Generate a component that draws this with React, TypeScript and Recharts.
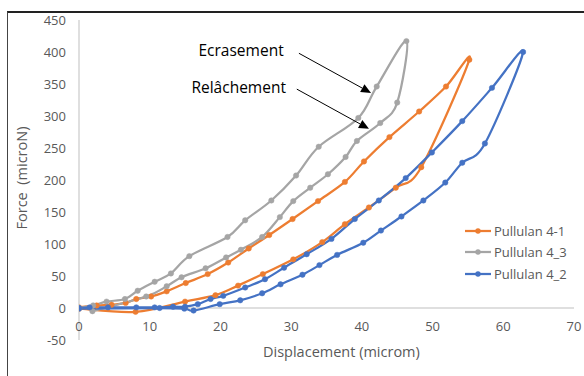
import React from "react";
import { LineChart, Line, XAxis, YAxis, ReferenceLine, ReferenceDot } from "recharts";

// Pullulan 4-1 (orange): loading branch then unloading branch
const orangeX = [0, 2.5, 4.6, 6.6, 8.1, 10.2, 12.4, 15.1, 18.2, 21.1, 24.0, 26.9, 30.2, 33.8, 37.6, 40.3, 43.9, 48.1, 51.9, 55.2,
  48.4, 44.8, 41.0, 37.6, 34.4, 30.3, 26.0, 22.5, 19.3, 15.0, 8.0, 0];
const orangeY = [1, 4, 5, 8, 14, 18, 26, 39, 53, 71, 93, 114, 139, 167, 197, 229, 267, 307, 346, 388,
  220, 188, 157, 131, 103, 76, 53, 35, 20, 10, -6, -1];

// Pullulan 4_3 (gray)
const grayX = [0, 2.0, 3.9, 6.5, 8.3, 10.7, 13.0, 15.6, 21.0, 23.5, 27.2, 30.7, 33.9, 39.5, 42.1, 46.3,
  45.0, 42.6, 39.3, 37.7, 35.2, 32.7, 30.3, 28.4, 25.9, 22.9, 20.8, 17.9, 14.5, 12.4, 9.5, 1.9];
const grayY = [0, 4, 10, 14, 27, 41, 54, 81, 111, 137, 168, 207, 252, 297, 346, 417,
  321, 289, 261, 236, 209, 188, 167, 142, 111, 91, 79, 62, 48, 34, 18, -5];

// Pullulan 4_2 (blue)
const blueX = [0, 1.5, 4.1, 8.1, 10.7, 13.3, 15.0, 16.8, 18.6, 20.4, 23.5, 26.3, 29.0, 32.2, 35.7, 39.0, 42.4, 46.2, 49.9, 54.2, 58.4, 62.8,
  57.4, 54.2, 51.8, 48.7, 45.6, 42.7, 40.2, 36.5, 34.0, 31.6, 28.5, 25.9, 22.8, 19.9, 16.2, 14.9, 11.4, 0];
const blueY = [0, 1, 1, 1, 1, 2, 2, 6, 14, 19, 32, 45, 63, 84, 108, 139, 168, 203, 243, 292, 344, 400,
  257, 227, 196, 168, 143, 121, 102, 83, 67, 52, 37, 23, 12, 6, -4, -1, 0, -1];

const xTicks = [0, 10, 20, 30, 40, 50, 60, 70];
const yTicks = [-50, 0, 50, 100, 150, 200, 250, 300, 350, 400, 450];

const seriesNames = ["Pullulan 4-1", "Pullulan 4_3", "Pullulan 4_2"];
const seriesColors = ["#ED7D31", "#A5A5A5", "#4472C4"];

// annotations (data units)
const noteLabels = ["Ecrasement", "Relâchement"];
const noteTextX = [16.9, 15.9];
const noteTextY = [403, 345];
const arrowFrom = [[31.1, 398], [30.8, 342]];
const arrowTo = [[41.3, 336], [41.0, 280]];

const zip = (xs: number[], ys: number[]) => xs.map((x, i) => ({ x, y: ys[i] }));
const seriesData = [zip(orangeX, orangeY), zip(grayX, grayY), zip(blueX, blueY)];

// Excel-ish smoothed line (Catmull-Rom through the points, keeps data order)
function excelCurve(context: any) {
  let pts: number[][] = [];
  return {
    areaStart() {},
    areaEnd() {},
    lineStart() {
      pts = [];
    },
    lineEnd() {
      const n = pts.length;
      if (!n) return;
      context.moveTo(pts[0][0], pts[0][1]);
      const t = 1 / 6;
      for (let i = 0; i < n - 1; i++) {
        const p0 = pts[Math.max(i - 1, 0)];
        const p1 = pts[i];
        const p2 = pts[i + 1];
        const p3 = pts[Math.min(i + 2, n - 1)];
        context.bezierCurveTo(
          p1[0] + (p2[0] - p0[0]) * t,
          p1[1] + (p2[1] - p0[1]) * t,
          p2[0] - (p3[0] - p1[0]) * t,
          p2[1] - (p3[1] - p1[1]) * t,
          p2[0],
          p2[1]
        );
      }
    },
    point(x: number, y: number) {
      pts.push([+x, +y]);
    },
  };
}

const XTick = (props: any) => (
  <text x={props.x} y={props.y - 9} textAnchor="middle" fill="#595959" fontSize={13}>
    {props.payload.value}
  </text>
);

const ArrowShape = (props: any) => {
  const { x1, y1, x2, y2 } = props;
  const ang = Math.atan2(y2 - y1, x2 - x1);
  const len = 10;
  const w = 4.5;
  const bx = x2 - len * Math.cos(ang);
  const by = y2 - len * Math.sin(ang);
  const px = -Math.sin(ang) * w;
  const py = Math.cos(ang) * w;
  return (
    <g>
      <line x1={x1} y1={y1} x2={bx} y2={by} stroke="#000" strokeWidth={1} />
      <polygon points={`${x2},${y2} ${bx + px},${by + py} ${bx - px},${by - py}`} fill="#000" />
    </g>
  );
};

export default function App() {
  return (
    <div
      style={{
        position: "absolute",
        left: 0,
        top: 0,
        width: 584,
        height: 376,
        background: "#fff",
        overflow: "hidden",
        fontFamily: '"Open Sans", sans-serif',
      }}
    >
      <div
        style={{
          position: "absolute",
          left: 7,
          top: 11,
          right: -10,
          bottom: -10,
          borderTop: "2px solid #222",
          borderLeft: "1px solid #444",
        }}
      />
      <div style={{ position: "absolute", left: 0, top: 0 }}>
        <LineChart width={584} height={376} margin={{ top: 20, right: 10, bottom: 0, left: 0 }}>
          <XAxis
            dataKey="x"
            type="number"
            domain={[0, 70]}
            ticks={xTicks}
            allowDataOverflow
            axisLine={false}
            tickLine={false}
            tickSize={0}
            tickMargin={0}
            height={36}
            tick={XTick}
          />
          <YAxis
            type="number"
            domain={[-50, 450]}
            ticks={yTicks}
            allowDataOverflow
            width={79}
            axisLine={{ stroke: "#BFBFBF" }}
            tickLine={false}
            tickSize={0}
            tickMargin={13}
            tick={{ fill: "#595959", fontSize: 13 }}
          />
          <ReferenceLine y={0} stroke="#BFBFBF" strokeWidth={1} />
          {seriesData.map((d, i) => (
            <Line
              key={seriesNames[i]}
              data={d}
              dataKey="y"
              name={seriesNames[i]}
              type={excelCurve as any}
              stroke={seriesColors[i]}
              strokeWidth={2.25}
              dot={{ r: 2.7, fill: seriesColors[i], stroke: seriesColors[i], strokeWidth: 0.5 }}
              activeDot={false}
              isAnimationActive={false}
            />
          ))}
          {arrowFrom.map((f, i) => (
            <ReferenceLine
              key={"arrow" + i}
              segment={[
                { x: f[0], y: f[1] },
                { x: arrowTo[i][0], y: arrowTo[i][1] },
              ]}
              shape={ArrowShape}
            />
          ))}
          {noteLabels.map((t, i) => (
            <ReferenceDot
              key={t}
              x={noteTextX[i]}
              y={noteTextY[i]}
              r={0}
              shape={(p: any) => (
                <text x={p.cx} y={p.cy} dominantBaseline="central" fill="#000" fontSize={15.5}>
                  {t}
                </text>
              )}
            />
          ))}
        </LineChart>
      </div>
      <div
        style={{
          position: "absolute",
          left: 21,
          top: 178,
          transform: "translate(-50%, -50%) rotate(-90deg)",
          whiteSpace: "pre",
          color: "#595959",
          fontSize: 14.5,
        }}
      >
        {"Force  (microN)"}
      </div>
      <div
        style={{
          position: "absolute",
          left: 263,
          top: 341,
          whiteSpace: "pre",
          color: "#595959",
          fontSize: 14.5,
          lineHeight: "22px",
        }}
      >
        Displacement (microm)
      </div>
      <div style={{ position: "absolute", left: 465, top: 220 }}>
        {seriesNames.map((n, i) => (
          <div key={n} style={{ height: 21.5, display: "flex", alignItems: "center" }}>
            <svg width={26} height={8} style={{ marginRight: 3 }}>
              <line x1={0} y1={4} x2={26} y2={4} stroke={seriesColors[i]} strokeWidth={2.25} />
              <circle cx={13} cy={4} r={2.7} fill={seriesColors[i]} />
            </svg>
            <span style={{ color: "#595959", fontSize: 13 }}>{n}</span>
          </div>
        ))}
      </div>
    </div>
  );
}
